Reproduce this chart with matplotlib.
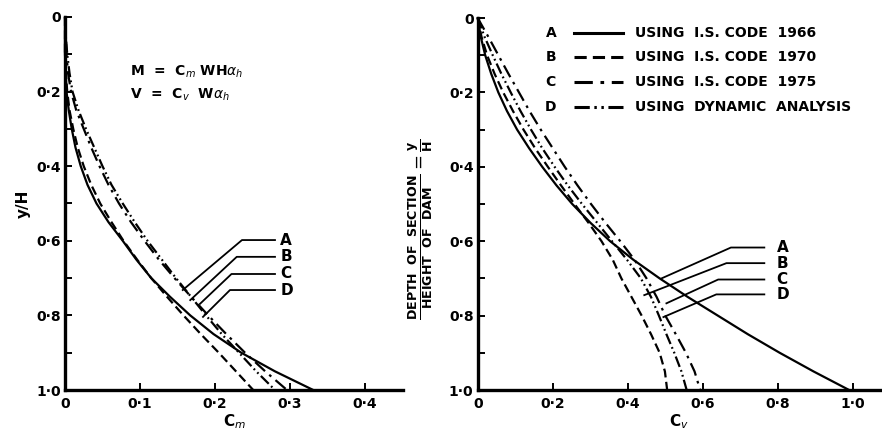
import numpy as np
import matplotlib.pyplot as plt

# depth ratio y/H (0 at top)
depth = [0.00, 0.05, 0.10, 0.15, 0.20, 0.25, 0.30, 0.35, 0.40, 0.45, 0.50,
         0.55, 0.60, 0.65, 0.70, 0.75, 0.80, 0.85, 0.90, 0.95, 1.00]

# moment coefficient Cm
cm_a = [0, 0, 0, 0.001, 0.002, 0.005, 0.009, 0.014, 0.021, 0.030, 0.042,
        0.058, 0.077, 0.095, 0.115, 0.140, 0.167, 0.198, 0.235, 0.280, 0.331]
cm_b = [0, 0, 0, 0.001, 0.003, 0.006, 0.011, 0.017, 0.025, 0.035, 0.047,
        0.062, 0.078, 0.096, 0.115, 0.136, 0.158, 0.181, 0.205, 0.228, 0.251]
cm_c = [0, 0.001, 0.002, 0.004, 0.008, 0.015, 0.025, 0.035, 0.046, 0.058, 0.072,
        0.088, 0.106, 0.125, 0.146, 0.168, 0.191, 0.215, 0.240, 0.267, 0.296]
cm_d = [0, 0.001, 0.003, 0.006, 0.010, 0.018, 0.028, 0.039, 0.050, 0.062, 0.077,
        0.093, 0.110, 0.129, 0.148, 0.168, 0.188, 0.209, 0.232, 0.255, 0.280]

# shear coefficient Cv
cv_a = [0, 0.008, 0.020, 0.036, 0.055, 0.078, 0.105, 0.137, 0.172, 0.210, 0.252,
        0.300, 0.353, 0.415, 0.485, 0.560, 0.640, 0.720, 0.805, 0.895, 0.990]
cv_b = [0, 0.010, 0.025, 0.045, 0.068, 0.094, 0.122, 0.153, 0.187, 0.222, 0.258,
        0.295, 0.330, 0.360, 0.383, 0.410, 0.437, 0.462, 0.485, 0.499, 0.505]
cv_c = [0, 0.028, 0.055, 0.082, 0.110, 0.138, 0.168, 0.200, 0.232, 0.266, 0.302,
        0.340, 0.380, 0.418, 0.450, 0.477, 0.500, 0.528, 0.555, 0.578, 0.593]
cv_d = [0, 0.018, 0.040, 0.063, 0.088, 0.114, 0.142, 0.172, 0.205, 0.240, 0.278,
        0.318, 0.358, 0.398, 0.435, 0.462, 0.483, 0.503, 0.524, 0.543, 0.557]

codes = ["A", "B", "C", "D"]
legend_txt = ["USING  I.S. CODE  1966", "USING  I.S. CODE  1970",
              "USING  I.S. CODE  1975", "USING  DYNAMIC  ANALYSIS"]
styles = ["-", (0, (4, 2)), (0, (6, 2.5, 1.2, 2.5)), (0, (5, 1.5, 0.8, 1.5, 0.8, 1.5))]

lw = 1.6
fw = "bold"
fs = 10

fig = plt.figure(figsize=(8.82, 4.36), dpi=100)
ax1 = fig.add_axes([65 / 882, 46 / 436, 338 / 882, 373 / 436])
ax2 = fig.add_axes([477.7 / 882, 46 / 436, 403.3 / 882, 372 / 436])


def style_axes(ax, xmax, xticks, xlabels):
    ax.set_ylim(1.0, 0.0)
    ax.set_xlim(0, xmax)
    for s in ["top", "right"]:
        ax.spines[s].set_visible(False)
    for s in ["left", "bottom"]:
        ax.spines[s].set_linewidth(2.4)
    ax.set_yticks([0, 0.2, 0.4, 0.6, 0.8, 1.0])
    ax.set_yticklabels(["0", "0·2", "0·4", "0·6", "0·8", "1·0"], fontsize=fs, fontweight=fw)
    ax.set_yticks([0.1, 0.3, 0.5, 0.7, 0.9], minor=True)
    ax.set_xticks(xticks)
    ax.set_xticklabels(xlabels, fontsize=fs, fontweight=fw)
    ax.tick_params(which="both", direction="in", length=5, width=1.4, pad=5)
    ax.tick_params(axis="y", which="both", pad=3)


style_axes(ax1, 0.4507, [0, 0.1, 0.2, 0.3, 0.4], ["0", "0·1", "0·2", "0·3", "0·4"])
style_axes(ax2, 1.075, [0, 0.2, 0.4, 0.6, 0.8, 1.0], ["0", "0·2", "0·4", "0·6", "0·8", "1·0"])

for vals, ls in zip([cm_a, cm_b, cm_c, cm_d], styles):
    ax1.plot(vals, depth, color="black", lw=lw, ls=ls, clip_on=False)
for vals, ls in zip([cv_a, cv_b, cv_c, cv_d], styles):
    ax2.plot(vals, depth, color="black", lw=lw, ls=ls, clip_on=False)

# leader lines to curve labels (end on curve, corner, end of horizontal)
lead1 = [((0.157, 0.732), (0.236, 0.598), (0.280, 0.598)),
         ((0.167, 0.759), (0.229, 0.643), (0.280, 0.643)),
         ((0.180, 0.769), (0.222, 0.689), (0.280, 0.689)),
         ((0.184, 0.804), (0.220, 0.732), (0.280, 0.732))]
lead2 = [((0.490, 0.700), (0.675, 0.617), (0.764, 0.617)),
         ((0.444, 0.745), (0.663, 0.659), (0.764, 0.659)),
         ((0.503, 0.767), (0.641, 0.703), (0.764, 0.703)),
         ((0.495, 0.804), (0.636, 0.743), (0.764, 0.743))]
for ax, leads, tx in [(ax1, lead1, 0.287), (ax2, lead2, 0.797)]:
    for code, pts in zip(codes, leads):
        xs = [p[0] for p in pts]
        ys = [p[1] for p in pts]
        ax.plot(xs, ys, color="black", lw=1.3)
        ax.text(tx, pts[2][1], code, fontsize=fs + 1, fontweight=fw, va="center", ha="left")

# legend drawn by hand in the right panel
for i, (code, ls, txt) in enumerate(zip(codes, styles, legend_txt)):
    yy = 0.04 + i * 0.066
    ax2.text(0.195, yy, code, fontsize=fs, fontweight=fw, ha="center", va="center")
    ax2.plot([0.256, 0.386], [yy, yy], color="black", lw=2.2, ls=ls)
    ax2.text(0.42, yy, txt, fontsize=fs, fontweight=fw, ha="left", va="center")

# formulas in the left panel
ax1.text(0.087, 0.147, r"M  =  C$_m$ WH$\alpha_h$", fontsize=fs, fontweight=fw, va="center")
ax1.text(0.087, 0.209, r"V  =  C$_v$  W$\alpha_h$", fontsize=fs, fontweight=fw, va="center")

ax1.set_xlabel(r"C$_m$", fontsize=fs + 1, fontweight=fw, labelpad=1)
ax1.set_ylabel("y/H", fontsize=fs + 1, fontweight=fw, labelpad=4)
ax2.set_xlabel(r"C$_v$", fontsize=fs + 1, fontweight=fw, labelpad=1)

fig.text(421 / 882, 0.475,
         r"$\frac{\mathbf{DEPTH\ \ OF\ \ SECTION}}{\mathbf{HEIGHT\ \ OF\ \ DAM}}=\frac{\mathbf{y}}{\mathbf{H}}$",
         rotation=90, fontsize=fs + 3, ha="center", va="center")

fig.savefig("out.png", dpi=100)
